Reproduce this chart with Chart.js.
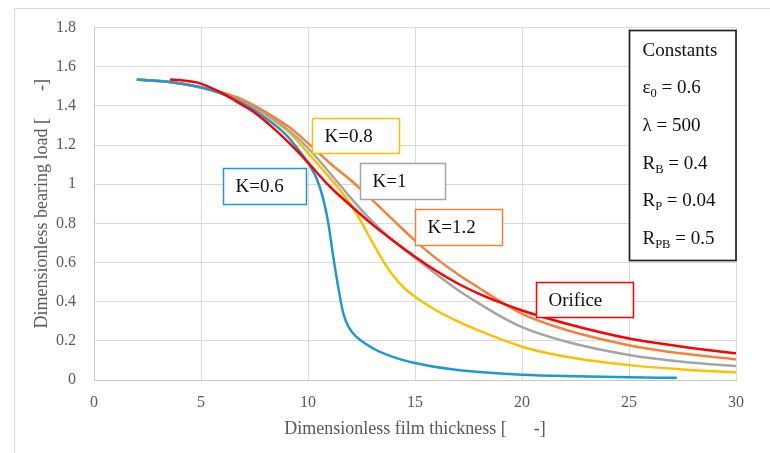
<!DOCTYPE html>
<html>
<head>
<meta charset="utf-8">
<script src="https://cdn.jsdelivr.net/npm/chart.js@4/dist/chart.umd.min.js"></script>
<style>
  html, body { margin: 0; padding: 0; background: #ffffff; }
  #wrap { width: 770px; height: 453px; position: relative; }
</style>
</head>
<body>
<div id="wrap"><canvas id="c" width="770" height="453"></canvas></div>
<script>
// Axis ticks
const xTickValues = [0, 5, 10, 15, 20, 25, 30];
const yTickValues = [0, 0.2, 0.4, 0.6, 0.8, 1, 1.2, 1.4, 1.6, 1.8];

// Series names
const seriesNames = ['K=0.6', 'K=0.8', 'K=1', 'K=1.2', 'Orifice'];

// K = 0.6
const k06X = [2, 3, 4, 5, 6, 7, 8, 9, 9.6, 10, 10.4, 10.7, 10.95, 11.18, 11.42, 11.65, 11.9, 12.27, 13.05, 14, 15, 16.64, 18, 20, 22.5, 25, 27.23];
const k06Y = [1.535, 1.528, 1.515, 1.495, 1.46, 1.41, 1.34, 1.25, 1.17, 1.11, 1.03, 0.93, 0.8, 0.63, 0.47, 0.34, 0.27, 0.22, 0.161, 0.117, 0.087, 0.056, 0.041, 0.027, 0.019, 0.014, 0.011];

// K = 0.8
const k08X = [2, 4, 6, 7, 8, 9.16, 10, 11, 11.5, 12, 12.5, 13, 13.5, 14, 14.5, 15, 16, 17, 18, 20, 22, 25, 27.5, 30];
const k08Y = [1.535, 1.515, 1.465, 1.42, 1.355, 1.26, 1.16, 1.035, 0.97, 0.895, 0.805, 0.705, 0.61, 0.53, 0.47, 0.425, 0.355, 0.3, 0.252, 0.17, 0.12, 0.076, 0.054, 0.039];

// K = 1
const k10X = [2, 4, 6, 7, 8, 9.16, 10, 11, 12, 13, 14, 15, 16, 17, 18, 19, 20, 22, 25, 27.5, 30];
const k10Y = [1.535, 1.515, 1.466, 1.425, 1.36, 1.27, 1.185, 1.06, 0.93, 0.81, 0.71, 0.625, 0.54, 0.46, 0.39, 0.325, 0.27, 0.198, 0.128, 0.093, 0.071];

// K = 1.2
const k12X = [2, 4, 6, 7, 8, 9.16, 10, 11, 12, 13, 14, 15, 16, 17, 18, 19, 20, 22, 25, 27.5, 30];
const k12Y = [1.535, 1.516, 1.468, 1.43, 1.37, 1.288, 1.21, 1.11, 1.02, 0.92, 0.815, 0.712, 0.62, 0.54, 0.47, 0.4, 0.338, 0.258, 0.178, 0.135, 0.105];

// Orifice
const orificeX = [3.55, 4, 4.8, 5.9, 7, 7.45, 8.55, 9.4, 10, 11, 12, 13, 14, 15, 16, 17, 18, 19, 20, 22, 25, 27.5, 30];
const orificeY = [1.535, 1.532, 1.52, 1.47, 1.4, 1.37, 1.27, 1.18, 1.11, 0.99, 0.89, 0.795, 0.71, 0.63, 0.557, 0.493, 0.44, 0.395, 0.355, 0.29, 0.212, 0.17, 0.136];

// Constants listed in the side box: [symbol, subscript, value]
const constantRows = [
  ['\u03b5', '0', ' = 0.6'],
  ['\u03bb', '', ' = 500'],
  ['R', 'B', ' = 0.4'],
  ['R', 'P', ' = 0.04'],
  ['R', 'PB', ' = 0.5']
];

const colors = ['#1c9ad6', '#ffc000', '#a5a5a5', '#f4823a', '#ff0000'];
const FONT = '"Liberation Serif", "Times New Roman", serif';

const toPoints = (xs, ys) => xs.map((v, i) => ({ x: v, y: ys[i] }));
const seriesData = [
  toPoints(k06X, k06Y),
  toPoints(k08X, k08Y),
  toPoints(k10X, k10Y),
  toPoints(k12X, k12Y),
  toPoints(orificeX, orificeY)
];
// drawing order: Orifice on top, then K=0.6
const drawOrder = [1, 4, 3, 2, 0];

// Callout boxes, anchored at their top-left corner in data units
const callouts = [
  { series: 0, x: 6.03, y: 1.083, w: 83, h: 36 },
  { series: 1, x: 10.17, y: 1.336, w: 87, h: 35 },
  { series: 2, x: 12.43, y: 1.107, w: 85, h: 36 },
  { series: 3, x: 15.0, y: 0.873, w: 87, h: 36 },
  { series: 4, x: 20.65, y: 0.503, w: 97, h: 35 }
];

const decorations = {
  id: 'decorations',
  beforeDraw(chart) {
    const ctx = chart.ctx;
    ctx.save();
    ctx.fillStyle = '#ffffff';
    ctx.fillRect(0, 0, chart.width, chart.height);
    ctx.strokeStyle = '#d9d9d9';
    ctx.lineWidth = 1;
    ctx.beginPath();
    ctx.moveTo(14.5, chart.height);
    ctx.lineTo(14.5, 8.5);
    ctx.lineTo(chart.width, 8.5);
    ctx.stroke();
    ctx.restore();
  },
  afterDatasetsDraw(chart) {
    const ctx = chart.ctx;
    const xs = chart.scales.x, ys = chart.scales.y;
    ctx.save();
    // series callouts
    ctx.font = '19px ' + FONT;
    ctx.textBaseline = 'middle';
    ctx.textAlign = 'left';
    callouts.forEach(c => {
      const px = Math.round(xs.getPixelForValue(c.x)) + 0.5;
      const py = Math.round(ys.getPixelForValue(c.y)) + 0.5;
      ctx.fillStyle = '#ffffff';
      ctx.fillRect(px, py, c.w, c.h);
      ctx.strokeStyle = colors[c.series];
      ctx.lineWidth = 1.5;
      ctx.strokeRect(px, py, c.w, c.h);
      ctx.fillStyle = '#111111';
      ctx.fillText(seriesNames[c.series], px + 12, py + c.h / 2 + 1);
    });

    // constants box in the upper-right corner of the plot
    const bx = Math.round(xs.getPixelForValue(25)) + 0.5;
    const by = Math.round(ys.getPixelForValue(1.79)) + 0.5;
    const bw = chart.chartArea.right - bx;
    const bh = 230;
    ctx.fillStyle = '#ffffff';
    ctx.fillRect(bx, by, bw, bh);
    ctx.strokeStyle = '#262626';
    ctx.lineWidth = 1.75;
    ctx.strokeRect(bx, by, bw, bh);

    ctx.fillStyle = '#111111';
    ctx.textBaseline = 'alphabetic';
    const tx = bx + 13;
    ctx.font = '19px ' + FONT;
    ctx.fillText('Constants', tx, by + 25);
    constantRows.forEach((row, i) => {
      const base = by + 25 + (i + 1) * 37.7;
      let cx = tx;
      ctx.font = '19px ' + FONT;
      ctx.fillText(row[0], cx, base);
      cx += ctx.measureText(row[0]).width;
      if (row[1]) {
        ctx.font = '12.5px ' + FONT;
        ctx.fillText(row[1], cx, base + 4);
        cx += ctx.measureText(row[1]).width;
      }
      ctx.font = '19px ' + FONT;
      ctx.fillText(row[2], cx, base);
    });
    ctx.restore();
  }
};

const datasets = seriesData.map((pts, i) => ({
  label: seriesNames[i],
  data: pts,
  showLine: true,
  borderColor: colors[i],
  backgroundColor: colors[i],
  borderWidth: 2.5,
  pointRadius: 0,
  pointHoverRadius: 0,
  fill: false,
  cubicInterpolationMode: 'monotone',
  order: drawOrder[i]
}));

new Chart(document.getElementById('c'), {
  type: 'scatter',
  data: { datasets },
  plugins: [decorations],
  options: {
    responsive: false,
    animation: false,
    devicePixelRatio: 1,
    layout: { padding: { left: 0, right: 34, top: 26, bottom: 0 } },
    plugins: { legend: { display: false }, tooltip: { enabled: false } },
    scales: {
      x: {
        type: 'linear',
        min: xTickValues[0],
        max: xTickValues[xTickValues.length - 1],
        afterFit(s) { s.height = 73; },
        afterBuildTicks(s) { s.ticks = xTickValues.map(v => ({ value: v })); },
        ticks: {
          padding: 13,
          color: '#595959',
          font: { family: FONT, size: 16 },
          callback: v => String(v)
        },
        grid: { color: '#d9d9d9', lineWidth: 1, drawTicks: false },
        border: { color: '#c8c8c8', width: 1 },
        title: {
          display: true,
          text: 'Dimensionless film thickness [      -]',
          color: '#595959',
          font: { family: FONT, size: 18 },
          padding: { top: 0, bottom: 12.8 }
        }
      },
      y: {
        type: 'linear',
        min: yTickValues[0],
        max: yTickValues[yTickValues.length - 1],
        afterFit(s) { s.width = 94; },
        afterBuildTicks(s) { s.ticks = yTickValues.map(v => ({ value: v })); },
        ticks: {
          padding: 18,
          color: '#595959',
          font: { family: FONT, size: 16 },
          callback: v => String(+v.toFixed(1))
        },
        grid: { color: '#d9d9d9', lineWidth: 1, drawTicks: false },
        border: { color: '#c8c8c8', width: 1 },
        title: {
          display: true,
          text: 'Dimensionless bearing load [      -]',
          color: '#595959',
          font: { family: FONT, size: 18 },
          padding: { top: 31.8, bottom: 0 }
        }
      }
    }
  }
});
</script>
</body>
</html>
